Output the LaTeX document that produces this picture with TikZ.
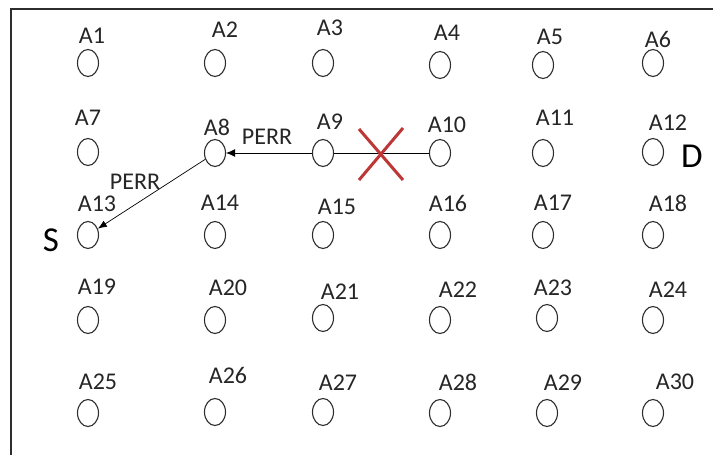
\documentclass[tikz,border=0pt]{standalone}
\usepackage{fontspec}
\setmainfont{Carlito}
\usetikzlibrary{shapes.geometric,arrows.meta,calc}
\definecolor{ink}{RGB}{45,45,45}
\definecolor{crossred}{RGB}{190,55,55}
\tikzset{
  sensor/.style={draw=ink,line width=1.1pt,ellipse,minimum width=21pt,minimum height=27pt,inner sep=0pt},
  lbl/.style={font=\fontsize{24}{24}\selectfont,text=black!85,inner sep=0pt},
  big/.style={font=\fontsize{35}{35}\selectfont,text=black,inner sep=0pt},
  link/.style={draw=black,line width=0.9pt},
}
\begin{document}
\begin{tikzpicture}[x=1pt,y=-1pt]
\useasboundingbox (0,0) rectangle (713,455);
\fill[white] (0,0) rectangle (713,455);
\draw[ink,line width=1.5pt] (11,460) -- (11,9) -- (720,9);
% row 1
\node[sensor] (n1) at (88,63) {};
\node[sensor] (n2) at (215,63) {};
\node[sensor] (n3) at (323,63) {};
\node[sensor] (n4) at (440,65) {};
\node[sensor] (n5) at (543,65) {};
\node[sensor] (n6) at (653,63) {};
% row 2
\node[sensor] (n7) at (88,152) {};
\node[sensor] (n8) at (215,153) {};
\node[sensor] (n9) at (323,153) {};
\node[sensor] (n10) at (440,153) {};
\node[sensor] (n11) at (543,153) {};
\node[sensor] (n12) at (653,152) {};
% row 3
\node[sensor] (n13) at (88,235) {};
\node[sensor] (n14) at (215,235) {};
\node[sensor] (n15) at (323,235) {};
\node[sensor] (n16) at (440,235) {};
\node[sensor] (n17) at (543,235) {};
\node[sensor] (n18) at (653,235) {};
% row 4
\node[sensor] (n19) at (88,320) {};
\node[sensor] (n20) at (215,320) {};
\node[sensor] (n21) at (323,318) {};
\node[sensor] (n22) at (440,320) {};
\node[sensor] (n23) at (547,318) {};
\node[sensor] (n24) at (653,320) {};
% row 5
\node[sensor] (n25) at (88,413) {};
\node[sensor] (n26) at (215,412) {};
\node[sensor] (n27) at (323,412) {};
\node[sensor] (n28) at (440,413) {};
\node[sensor] (n29) at (547,413) {};
\node[sensor] (n30) at (653,413) {};
% labels
\node[lbl] (l1) at (92,36) {A1};
\node[lbl] (l2) at (225,30) {A2};
\node[lbl] (l3) at (330,28) {A3};
\node[lbl] (l4) at (447,33) {A4};
\node[lbl] (l5) at (550,37) {A5};
\node[lbl] (l6) at (658,39) {A6};
\node[lbl] (l7) at (88,118) {A7};
\node[lbl] (l8) at (217,127) {A8};
\node[lbl] (l9) at (330,122) {A9};
\node[lbl] (l10) at (447,125) {A10};
\node[lbl] (l11) at (555,118) {A11};
\node[lbl] (l12) at (668,123) {A12};
\node[lbl] (l13) at (97,204) {A13};
\node[lbl] (l14) at (220,203) {A14};
\node[lbl] (l15) at (337,207) {A15};
\node[lbl] (l16) at (448,203) {A16};
\node[lbl] (l17) at (553,203) {A17};
\node[lbl] (l18) at (668,203) {A18};
\node[lbl] (l19) at (97,287) {A19};
\node[lbl] (l20) at (228,288) {A20};
\node[lbl] (l21) at (340,292) {A21};
\node[lbl] (l22) at (458,290) {A22};
\node[lbl] (l23) at (553,288) {A23};
\node[lbl] (l24) at (668,290) {A24};
\node[lbl] (l25) at (98,382) {A25};
\node[lbl] (l26) at (228,375) {A26};
\node[lbl] (l27) at (338,383) {A27};
\node[lbl] (l28) at (458,382) {A28};
\node[lbl] (l29) at (563,383) {A29};
\node[lbl] (l30) at (675,382) {A30};
\node[lbl] (p1) at (267,137) {PERR};
\node[lbl] (p2) at (135,182) {PERR};
\node[big] (S) at (51,240) {S};
\node[big] (D) at (692,156) {D};
% links
\draw[link] (n10) -- (n9);
\draw[link,-{Latex[length=9pt,width=8pt]}] (n9) -- (n8);
\draw[link,line width=0.7pt,-{Latex[length=9pt,width=7pt]}] (n8) -- (n13);
% cross
\coordinate (xc) at (381,154);
\draw[crossred,line width=3pt] ($(xc)+(-22,26)$) -- ($(xc)+(22,-26)$);
\draw[crossred,line width=3pt] ($(xc)+(-22,-25)$) -- ($(xc)+(22,26)$);
\end{tikzpicture}
\end{document}
